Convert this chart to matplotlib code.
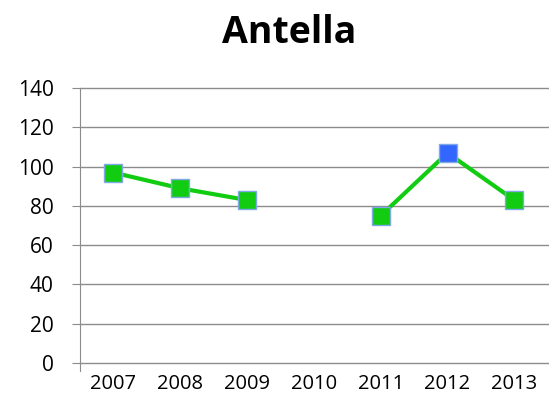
import numpy as np
import matplotlib.pyplot as plt

years = ['2007', '2008', '2009', '2010', '2011', '2012', '2013']
values = [97, 89, 83, np.nan, 75, 107, 83]
highlight = '2012'

plt.rcParams['font.family'] = ['Open Sans', 'DejaVu Sans']

fig = plt.figure(figsize=(5.49, 4.12), dpi=100)
ax = fig.add_axes([0.1457, 0.119, 0.852, 0.667])

x = np.arange(len(years))
ax.plot(x, values, color='#11cc11', lw=3, zorder=2)
cols = ['#3366ff' if y == highlight else '#11cc11' for y in years]
for xi, v, c in zip(x, values, cols):
    if not np.isnan(v):
        ax.plot(xi, v, 's', ms=13, mfc=c, mec='#7fa9e6', mew=1, zorder=3)

ax.set_xlim(-0.5, len(years) - 0.5)
ax.set_ylim(0, 140)
ax.set_yticks(range(0, 141, 20))
ax.set_xticks(x)
ax.set_xticklabels(years)
ax.yaxis.grid(True, color='#8c8c8c', lw=1)
for g in ax.get_ygridlines():
    g.set_clip_on(False)
ax.set_axisbelow(True)
for s in ['top', 'right', 'bottom']:
    ax.spines[s].set_visible(False)
ax.spines['left'].set_color('#8c8c8c')
ax.spines['left'].set_bounds(-4, 140)
ax.tick_params(axis='y', length=6, color='#8c8c8c', labelsize=15, pad=13)
ax.tick_params(axis='x', length=0, labelsize=14.5, pad=8)
fig.text(0.526, 0.920, 'Antella', fontsize=27, fontweight='bold',
         ha='center', va='center')

fig.savefig('out.png', dpi=100)
